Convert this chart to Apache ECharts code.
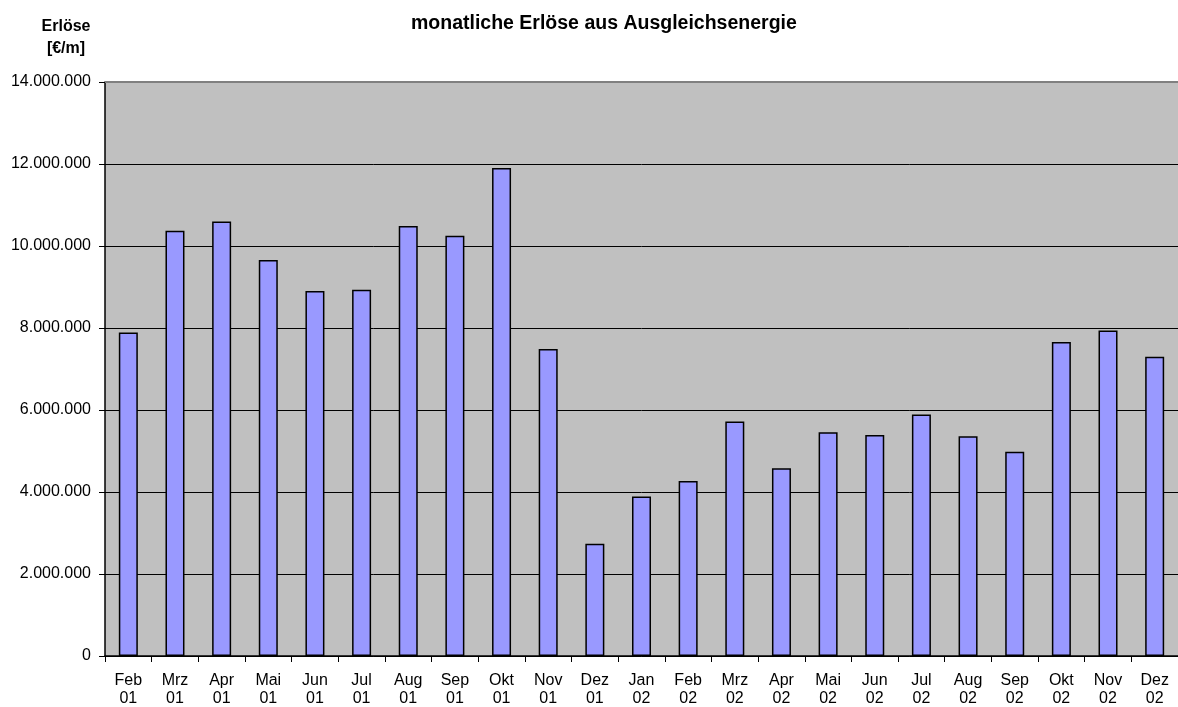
<!DOCTYPE html>
<html>
<head>
<meta charset="utf-8">
<script src="https://cdn.jsdelivr.net/npm/echarts@6/dist/echarts.min.js"></script>
<style>
html, body { margin: 0; padding: 0; background: #fff; }
#main { width: 1178px; height: 707px; }
</style>
</head>
<body>
<div id="main"></div>
<script>
var months = ['Feb\n01', 'Mrz\n01', 'Apr\n01', 'Mai\n01', 'Jun\n01', 'Jul\n01', 'Aug\n01', 'Sep\n01', 'Okt\n01', 'Nov\n01', 'Dez\n01',
  'Jan\n02', 'Feb\n02', 'Mrz\n02', 'Apr\n02', 'Mai\n02', 'Jun\n02', 'Jul\n02', 'Aug\n02', 'Sep\n02', 'Okt\n02', 'Nov\n02', 'Dez\n02']
var erloese = [7890000, 10370000, 10600000, 9660000, 8900000, 8930000, 10490000, 10250000, 11900000, 7490000, 2740000,
  3890000, 4270000, 5720000, 4580000, 5460000, 5390000, 5890000, 5360000, 4980000, 7660000, 7940000, 7300000]
var yMax = 14000000
var yStep = 2000000

var font = 'Liberation Sans, Arial, sans-serif'

function fmt (v) {
  return String(v).replace(/\B(?=(\d{3})+(?!\d))/g, '.')
}

var chart = echarts.init(document.getElementById('main'), null, { renderer: 'canvas' })
chart.setOption({
  animation: false,
  backgroundColor: '#ffffff',
  textStyle: { fontFamily: font },
  title: [
    {
      text: 'monatliche Erlöse aus Ausgleichsenergie',
      left: 406,
      top: 9,
      textStyle: { fontFamily: font, fontSize: 19.5, fontWeight: 'bold', color: '#000' }
    },
    {
      text: 'Erlöse\n[€/m]',
      left: 61,
      top: 11,
      textAlign: 'center',
      textStyle: { fontFamily: font, fontSize: 16, fontWeight: 'bold', color: '#000', lineHeight: 22 }
    }
  ],
  grid: {
    left: 105,
    right: 0,
    top: 82,
    bottom: 51,
    outerBoundsMode: 'none',
    show: true,
    backgroundColor: '#c0c0c0',
    borderWidth: 0
  },
  xAxis: {
    type: 'category',
    data: months,
    axisLine: { lineStyle: { color: '#000', width: 1.5 } },
    axisTick: { show: true, length: 6, alignWithLabel: false, lineStyle: { color: '#000' } },
    axisLabel: { color: '#000', fontSize: 16, fontFamily: font, lineHeight: 18, margin: 16 }
  },
  yAxis: {
    type: 'value',
    min: 0,
    max: yMax,
    interval: yStep,
    axisLine: { show: true, lineStyle: { color: '#000', width: 1.5 } },
    axisTick: { show: true, length: 6, lineStyle: { color: '#000' } },
    axisLabel: { color: '#000', fontSize: 16, fontFamily: font, margin: 14, formatter: fmt },
    splitLine: { lineStyle: { color: '#000', width: 1 } }
  },
  series: [
    {
      type: 'bar',
      data: erloese,
      barWidth: 19,
      itemStyle: { color: '#9999ff', borderColor: '#000', borderWidth: 1.5 },
      markLine: {
        silent: true,
        symbol: 'none',
        label: { show: false },
        lineStyle: { color: '#808080', type: 'solid', width: 2 },
        data: [{ yAxis: yMax }]
      }
    }
  ]
})
</script>
</body>
</html>
